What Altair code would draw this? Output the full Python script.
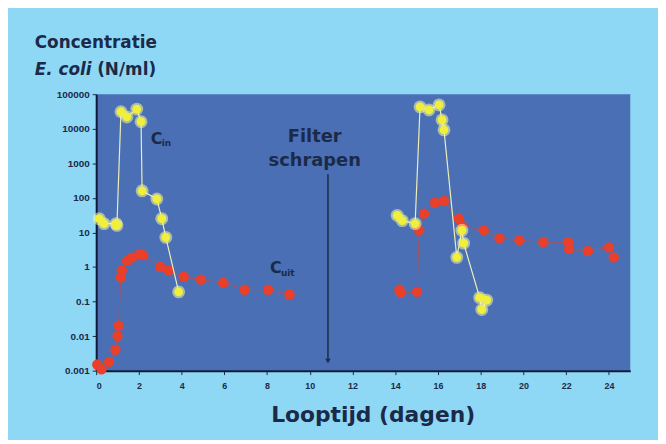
import altair as alt
import pandas as pd

# ---- data ----
cin_day = [0.14, 0.37, 0.93, 0.97, 1.16, 1.44, 1.9, 2.1, 2.15, 2.84, 3.07, 3.26, 3.86,
           14.09, 14.33, 14.93, 15.16, 15.58, 16.05, 16.19, 16.28, 16.88, 17.12, 17.2, 17.95, 18.05, 18.28]
cin_val = [25, 18, 18, 16, 31000, 22000, 37000, 16000, 160, 93, 25, 7.2, 0.19,
           31, 22, 18, 43000, 35000, 49000, 18000, 9300, 1.9, 11.5, 4.9, 0.13, 0.059, 0.11]
cin_grp = [1] * 13 + [2] * 14

cuit_day = [0.05, 0.25, 0.6, 0.9, 1.0, 1.05, 1.15, 1.2, 1.45, 1.7, 2.05, 2.2, 3.0, 3.4, 4.1, 4.9,
            5.95, 6.95, 8.05, 9.05,
            14.19, 14.25, 15.02, 15.12, 15.35, 15.86, 16.28, 16.98, 17.12, 18.14, 18.88, 19.81,
            20.93, 22.09, 22.14, 23.02, 24.0, 24.23]
cuit_val = [0.0015, 0.0011, 0.0018, 0.004, 0.01, 0.02, 0.5, 0.8, 1.5, 1.9, 2.4, 2.2, 1.0, 0.8,
            0.52, 0.43, 0.35, 0.22, 0.22, 0.16,
            0.22, 0.18, 0.19, 11.5, 35, 72, 81, 25, 16, 11.5, 6.7, 5.9,
            5.2, 5.2, 3.3, 2.9, 3.7, 1.9]
cuit_grp = [1] * 20 + [2] * 18

x_ticks = list(range(0, 25, 2))
y_ticks = [0.001, 0.01, 0.1, 1, 10, 100, 1000, 10000, 100000]

labels_text = ["Filter", "schrapen", "C", "in", "C", "uit"]
labels_day = [10.23, 10.23, 2.56, 3.07, 8.14, 8.65]
labels_val = [4250, 810, 3700, 3100, 0.68, 0.55]
labels_size = [18, 18, 16, 9, 16, 9]
labels_align = ["center", "center", "left", "left", "left", "left"]

arrow_day = [10.85]
arrow_from = [485]
arrow_to = [0.0019]

# ---- tables ----
cin = pd.DataFrame({"day": cin_day, "val": cin_val, "grp": cin_grp,
                    "ord": list(range(len(cin_day)))})
cuit = pd.DataFrame({"day": cuit_day, "val": cuit_val, "grp": cuit_grp,
                     "ord": list(range(len(cuit_day)))})
labels = pd.DataFrame({"t": labels_text, "day": labels_day, "val": labels_val,
                       "size": labels_size, "align": labels_align})
arrow = pd.DataFrame({"day": arrow_day, "y1": arrow_from, "y2": arrow_to})

INK = "#1b2a48"

xs = alt.Scale(domain=[0, 25], nice=False)
ys = alt.Scale(type="log", domain=[0.001, 100000], nice=False)

xax = alt.Axis(values=x_ticks, title="Looptijd (dagen)", grid=False,
               labelFont="Liberation Sans", labelFontWeight="bold", labelFontSize=9,
               labelColor=INK, tickColor=INK, tickSize=4, labelPadding=7,
               domainColor="#0d1a3a", domainWidth=2,
               titleFont="DejaVu Sans", titleFontWeight="bold", titleFontSize=22,
               titleColor=INK, titleX=279, titleY=51, titleBaseline="alphabetic",
               titleAnchor="start", titleAlign="center")
yax = alt.Axis(values=y_ticks, format="~g", title=None, grid=False,
               labelFont="Liberation Sans", labelFontWeight="bold", labelFontSize=10,
               labelColor=INK, tickColor=INK, tickSize=4, labelPadding=3,
               domainColor="#0d1a3a", domainWidth=2)

X = alt.X("day:Q", scale=xs, axis=xax)
Y = alt.Y("val:Q", scale=ys, axis=yax)

cuit_line = alt.Chart(cuit).mark_line(color="#e8402a", strokeWidth=1, opacity=0.6).encode(
    x=X, y=Y, detail="grp:N", order="ord:Q")
cuit_pts = alt.Chart(cuit).mark_circle(color="#e8402a", size=110, opacity=1).encode(x=X, y=Y)

cin_line = alt.Chart(cin).mark_line(color="#eeeeb8", strokeWidth=1.2).encode(
    x=X, y=Y, detail="grp:N", order="ord:Q")
cin_halo = alt.Chart(cin).mark_circle(color="#f6f7a8", size=170, opacity=0.55).encode(x=X, y=Y)
cin_pts = alt.Chart(cin).mark_circle(color="#f0f03c", size=80, opacity=1).encode(x=X, y=Y)

txt_center = alt.Chart(labels[labels["align"] == "center"]).mark_text(
    font="DejaVu Sans", fontWeight="bold", color=INK, baseline="alphabetic",
    align="center", fontSize=18).encode(
    x=alt.X("day:Q", scale=xs), y=alt.Y("val:Q", scale=ys), text="t:N")
txt_left = alt.Chart(labels[labels["align"] == "left"]).mark_text(
    font="DejaVu Sans", fontWeight="bold", color=INK, baseline="alphabetic",
    align="left").encode(
    x=alt.X("day:Q", scale=xs), y=alt.Y("val:Q", scale=ys), text="t:N",
    size=alt.Size("size:Q", scale=None, legend=None))

arr_rule = alt.Chart(arrow).mark_rule(color=INK, strokeWidth=1.5).encode(
    x=alt.X("day:Q", scale=xs), y=alt.Y("y1:Q", scale=ys), y2="y2:Q")
arr_head = alt.Chart(arrow).mark_point(shape="triangle-down", filled=True, color=INK,
                                       size=30, opacity=1).encode(
    x=alt.X("day:Q", scale=xs), y=alt.Y("y2:Q", scale=ys))

yt1 = alt.Chart(pd.DataFrame({"t": ["Concentratie"]})).mark_text(
    font="DejaVu Sans", fontWeight="bold", fontSize=17,
    color=INK, align="left", baseline="alphabetic").encode(
    x=alt.value(-62), y=alt.value(-47), text="t:N")
yt2 = alt.Chart(pd.DataFrame({"t": ["E. coli"]})).mark_text(
    font="DejaVu Sans", fontWeight="bold", fontStyle="italic", fontSize=17,
    color=INK, align="left", baseline="alphabetic").encode(
    x=alt.value(-62), y=alt.value(-19), text="t:N")
yt3 = alt.Chart(pd.DataFrame({"t": ["(N/ml)"]})).mark_text(
    font="DejaVu Sans", fontWeight="bold", fontSize=17,
    color=INK, align="left", baseline="alphabetic").encode(
    x=alt.value(1), y=alt.value(-19), text="t:N")

chart = alt.layer(
    cuit_line, cuit_pts, cin_line, cin_halo, cin_pts,
    txt_center, txt_left, arr_rule, arr_head, yt1, yt2, yt3
).properties(
    width=539, height=279,
    autosize=alt.AutoSizeParams(type="none"),
    padding={"left": 89, "top": 85, "right": 28, "bottom": 68},
    background="#8fd8f5",
).configure_view(fill="#4a6fb5", stroke=None)

chart.save("out.html", embed_options={"renderer": "svg", "actions": False})
